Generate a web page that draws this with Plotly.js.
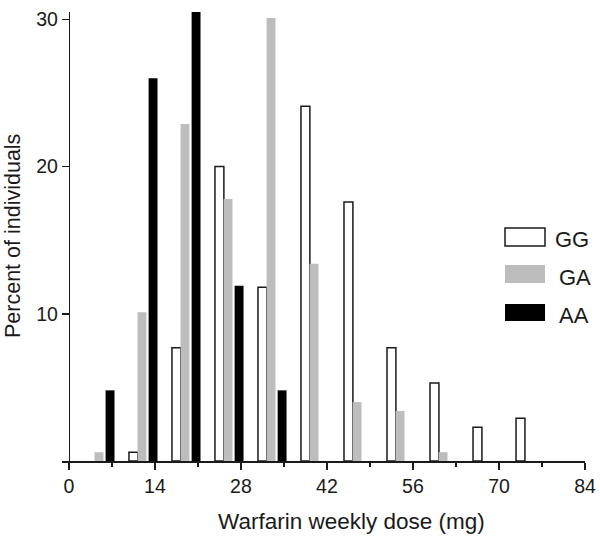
<!DOCTYPE html>
<html>
<head>
<meta charset="utf-8">
<script src="https://cdn.plot.ly/plotly-3.0.1.min.js"></script>
<style>html,body{margin:0;padding:0;background:#fff;}#chart{width:600px;height:539px;}</style>
</head>
<body>
<div id="chart"></div>
<script>
// Dose bins (upper bound of weekly dose bin, mg)
const binsGG = [14, 21, 28, 35, 42, 49, 56, 63, 70, 77];
const valuesGG = [0.6, 7.7, 20.0, 11.8, 24.1, 17.6, 7.7, 5.3, 2.3, 2.9];
const binsGA = [7, 14, 21, 28, 35, 42, 49, 56, 63];
const valuesGA = [0.6, 10.1, 22.9, 17.8, 30.1, 13.4, 4.0, 3.4, 0.6];
const binsAA = [7, 14, 21, 28, 35];
const valuesAA = [4.8, 26.0, 30.7, 11.9, 4.8];
const seriesNames = ['GG', 'GA', 'AA'];
const xTickVals = [0, 14, 28, 42, 56, 70, 84];
const yTickVals = [10, 20, 30];

const W = 600, H = 539;
const M = {l: 62, r: 15, t: 12, b: 78};
const xRange = [-1.12, 84];
const yRange = [0, 30.5];
const pw = W - M.l - M.r, ph = H - M.t - M.b;
const px = v => (v - M.l) / pw;      // pixel -> paper x
const py = v => (H - M.b - v) / ph;  // pixel -> paper y

const barW = 1.45;
const ink = '#1a1a1a';
const fontFam = 'Liberation Sans, Arial, Helvetica, sans-serif';

const traces = [
  {type: 'bar', name: seriesNames[0], x: binsGG, y: valuesGG, width: barW, offset: -3.5 - barW / 2,
   marker: {color: '#ffffff', line: {color: ink, width: 1.5}}, showlegend: false, hoverinfo: 'x+y'},
  {type: 'bar', name: seriesNames[1], x: binsGA, y: valuesGA, width: barW, offset: -2.1 - barW / 2,
   marker: {color: '#bdbdbd', line: {width: 0}}, showlegend: false, hoverinfo: 'x+y'},
  {type: 'bar', name: seriesNames[2], x: binsAA, y: valuesAA, width: barW, offset: -0.3 - barW / 2,
   marker: {color: '#000000', line: {width: 0}}, showlegend: false, hoverinfo: 'x+y'}
];

// manual legend
const legBoxes = [
  {y0: 228, y1: 246, fill: '#ffffff', line: {color: ink, width: 1.5}, tx: 553, ty: 239},
  {y0: 265, y1: 283, fill: '#bdbdbd', line: {width: 0}, tx: 557, ty: 277},
  {y0: 304, y1: 321, fill: '#000000', line: {width: 0}, tx: 557, ty: 315}
];
const shapes = legBoxes.map(b => ({
  type: 'rect', xref: 'paper', yref: 'paper',
  x0: px(505), x1: px(545), y0: py(b.y1), y1: py(b.y0),
  fillcolor: b.fill, line: b.line
}));
const annotations = legBoxes.map((b, i) => ({
  xref: 'paper', yref: 'paper', x: px(b.tx), y: py(b.ty), xanchor: 'left', yanchor: 'middle',
  text: seriesNames[i], showarrow: false, font: {family: fontFam, size: 22, color: ink}
}));
annotations.push({
  xref: 'paper', yref: 'paper', x: px(351.5), y: py(521), xanchor: 'center', yanchor: 'middle',
  text: 'Warfarin weekly dose (mg)', showarrow: false, font: {family: fontFam, size: 22.5, color: ink}
});
annotations.push({
  xref: 'paper', yref: 'paper', x: px(13), y: py(236), xanchor: 'center', yanchor: 'middle',
  text: 'Percent of individuals', textangle: -90, showarrow: false, font: {family: fontFam, size: 21.5, color: ink}
});

const layout = {
  width: W, height: H,
  margin: M,
  paper_bgcolor: '#ffffff', plot_bgcolor: '#ffffff',
  barmode: 'overlay',
  showlegend: false,
  font: {family: fontFam, color: ink},
  xaxis: {
    range: xRange, showgrid: false, zeroline: false,
    showline: true, linecolor: ink, linewidth: 1.5,
    tickmode: 'array', tickvals: xTickVals, ticktext: xTickVals.map(String),
    ticks: 'outside', ticklen: 7, tickwidth: 1.5, tickcolor: ink,
    minor: {tickmode: 'linear', tick0: 0, dtick: 7, ticks: 'outside', ticklen: 4, tickwidth: 1.5, tickcolor: ink},
    tickfont: {family: fontFam, size: 19.5, color: ink}, fixedrange: true
  },
  yaxis: {
    range: yRange, anchor: 'free', position: 1.12 / 85.12,
    showgrid: false, zeroline: false,
    showline: true, linecolor: ink, linewidth: 1.5,
    tickmode: 'array', tickvals: yTickVals, ticktext: yTickVals.map(String),
    ticks: 'outside', ticklen: 7, tickwidth: 1.5, tickcolor: ink,
    tickfont: {family: fontFam, size: 19.5, color: ink}, fixedrange: true
  },
  shapes: shapes,
  annotations: annotations
};

Plotly.newPlot('chart', traces, layout, {displayModeBar: false, staticPlot: true});
</script>
</body>
</html>
